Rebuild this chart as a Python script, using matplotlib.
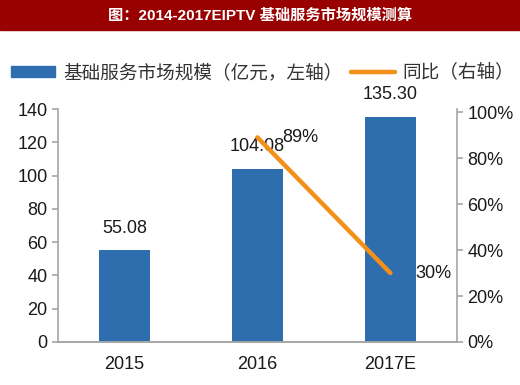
import matplotlib
matplotlib.use("Agg")
import matplotlib.pyplot as plt
import matplotlib.patches as mpatches
import matplotlib.lines as mlines
import matplotlib.ticker as ticker

plt.rcParams['font.family'] = ['Liberation Sans', 'Noto Sans CJK SC', 'DejaVu Sans']

years = ["2015", "2016", "2017E"]
market = [55.08, 104.08, 135.30]
yoy_years = ["2016", "2017E"]
yoy = [0.89, 0.30]
yoy_labels = ["89%", "30%"]

title = "图：2014-2017EIPTV 基础服务市场规模测算"
bar_name = "基础服务市场规模（亿元，左轴）"
line_name = "同比（右轴）"

bar_color = "#2E6DAE"
line_color = "#F39019"
spine_color = "#A6A6A6"

fig = plt.figure(figsize=(5.2, 3.85), dpi=100)

# title banner
fig.patches.append(mpatches.Rectangle((0, 0.922), 1, 0.078, transform=fig.transFigure,
                                      color="#990000", zorder=0))
fig.text(0.5, 0.961, title, color="white", fontsize=11, fontweight="bold",
         ha="center", va="center", family=['Liberation Sans', 'Noto Sans CJK SC'])

ax = fig.add_axes([0.1115, 0.1117, 0.767, 0.605])
x = list(range(len(years)))
ax.bar(x, market, width=0.38, color=bar_color, zorder=2)
ax.set_xlim(-0.5, 2.5)
ax.set_ylim(0, 140)
ax.set_yticks([0, 20, 40, 60, 80, 100, 120, 140])
ax.set_xticks(x, labels=years)
for xi, v in zip(x, market):
    ax.annotate(f"{v:.2f}", (xi, v), xytext=(0, 16), textcoords="offset points",
                ha="center", va="center", fontsize=13, color="#1a1a1a")

ax2 = ax.twinx()
ax2.set_ylim(0, 1.013)
ax2.set_yticks([0, 0.2, 0.4, 0.6, 0.8, 1.0])
ax2.yaxis.set_major_formatter(ticker.FuncFormatter(lambda v, p: f"{v*100:.0f}%"))
lx = [years.index(y) for y in yoy_years]
ax2.plot(lx, yoy, color=line_color, linewidth=3.2, solid_capstyle="round", zorder=3)
for xi, v, s in zip(lx, yoy, yoy_labels):
    ax2.annotate(s, (xi, v), xytext=(18, 0), textcoords="offset points",
                 ha="left", va="center", fontsize=13, color="#1a1a1a")

for a in (ax, ax2):
    a.spines["top"].set_visible(False)
    for s in ("left", "right", "bottom"):
        a.spines[s].set_color(spine_color)
        a.spines[s].set_linewidth(1.2)
    a.tick_params(axis="y", colors=spine_color, labelcolor="#1a1a1a", labelsize=13,
                  length=4, width=1.2)
    a.tick_params(axis="x", length=0, labelsize=13, labelcolor="#1a1a1a", pad=10)
ax.spines["right"].set_visible(False)
ax2.spines["left"].set_visible(False)

# legend
h1 = mpatches.Patch(color=bar_color)
h2 = mlines.Line2D([], [], color=line_color, linewidth=3.2, solid_capstyle="round")
fig.legend([h1, h2], [bar_name, line_name], loc="center", bbox_to_anchor=(0.505, 0.81),
           ncol=2, frameon=False, handlelength=2.4, handleheight=0.55,
           handletextpad=0.4, columnspacing=0.45, labelcolor="#333333",
           borderaxespad=0, borderpad=0,
           prop={'family': ['Noto Sans CJK SC'], 'size': 13.4})

fig.savefig("out.png", dpi=100)
